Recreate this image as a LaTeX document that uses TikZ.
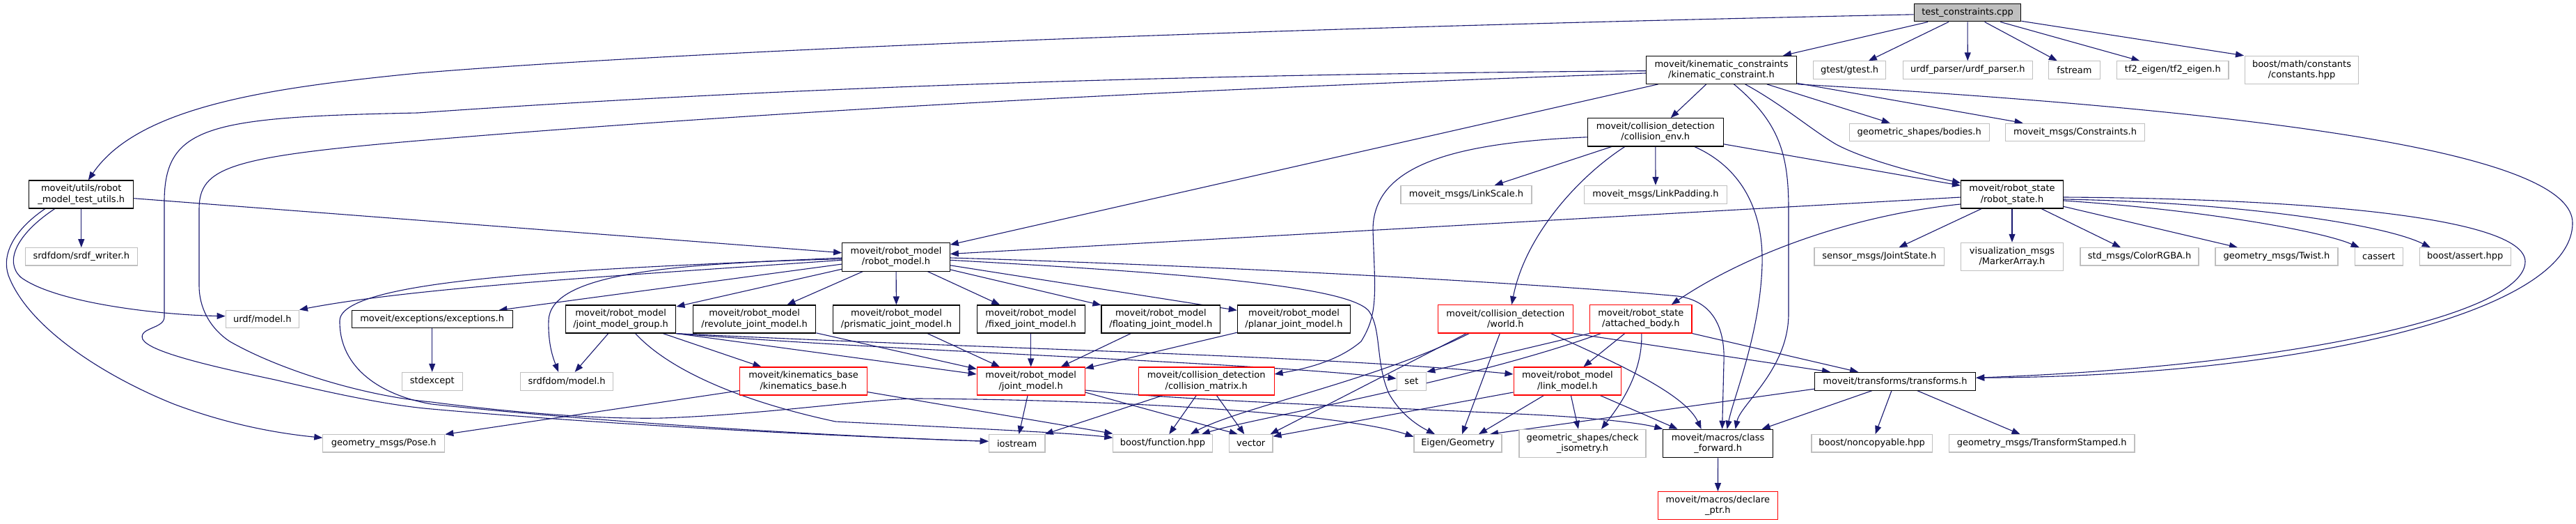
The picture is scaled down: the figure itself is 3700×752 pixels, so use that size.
\documentclass[tikz,border=0pt]{standalone}
\usepackage{fontspec}
\setmainfont{DejaVu Sans}
\usetikzlibrary{arrows.meta}
\definecolor{edgeblue}{HTML}{191970}
\definecolor{grayb}{HTML}{BFBFBF}
\pgfdeclarelayer{back}
\pgfdeclarelayer{bg}
\pgfsetlayers{back,bg,main}
\tikzset{
  nd/.style={draw, rectangle, inner sep=0pt, align=center, fill=white,
    font=\fontsize{13}{15.3}\selectfont, line width=1.1pt},
  gn/.style={nd, draw=grayb},
  bn/.style={nd, draw=black},
  rn/.style={nd, draw=red},
  sz/.style 2 args={minimum width=#1pt, minimum height=#2pt},
  e/.style={draw=edgeblue, line width=1.1pt, -{Triangle[length=12pt,width=9pt]}},
}
\begin{document}
\begin{tikzpicture}[x=1pt,y=-1pt]
\useasboundingbox (0,0) rectangle (3700,752);
\begin{pgfonlayer}{back}
\fill[white] (0,0) rectangle (3700,752);
\end{pgfonlayer}

\node[bn,fill=grayb,sz={153.5}{25.3}] (tc) at (2826,18.3) {test\_constraints.cpp};
\node[bn,sz={150}{40}] (mtu) at (116.8,279) {moveit/utils/robot\\\_model\_test\_utils.h};
\node[gn,sz={161}{25.3}] (srdfw) at (116.8,368.3) {srdfdom/srdf\_writer.h};
\node[bn,sz={216.4}{40}] (kc) at (2472.5,100.3) {moveit/kinematic\_constraints\\/kinematic\_constraint.h};
\node[gn,sz={104.4}{25.3}] (gtest) at (2656.6,100.5) {gtest/gtest.h};
\node[gn,sz={185.9}{25.3}] (urdfp) at (2826.3,100.5) {urdf\_parser/urdf\_parser.h};
\node[gn,sz={74}{25.3}] (fstream) at (2979.5,100.5) {fstream};
\node[gn,sz={160.3}{25.3}] (tf2) at (3120.8,100.5) {tf2\_eigen/tf2\_eigen.h};
\node[gn,sz={163}{40.4}] (consts) at (3306,100.5) {boost/math/constants\\/constants.hpp};
\node[bn,sz={194.7}{40.3}] (ce) at (2377.8,189.8) {moveit/collision\_detection\\/collision\_env.h};
\node[gn,sz={200.9}{25.3}] (bodies) at (2756.7,189.7) {geometric\_shapes/bodies.h};
\node[gn,sz={200.4}{25.3}] (constr) at (2980.6,189.7) {moveit\_msgs/Constraints.h};
\node[gn,sz={188}{25.7}] (lscale) at (2106,279.2) {moveit\_msgs/LinkScale.h};
\node[gn,sz={204.6}{25.7}] (lpad) at (2378,279.2) {moveit\_msgs/LinkPadding.h};
\node[bn,sz={147}{40}] (rs) at (2890,279) {moveit/robot\_state\\/robot\_state.h};
\node[bn,sz={154.6}{40.7}] (rm) at (1287,368.7) {moveit/robot\_model\\/robot\_model.h};
\node[gn,sz={186.6}{25.3}] (jstate) at (2699.3,368.3) {sensor\_msgs/JointState.h};
\node[gn,sz={147}{40.4}] (marker) at (2890,368.5) {visualization\_msgs\\/MarkerArray.h};
\node[gn,sz={170}{25.3}] (color) at (3073,368.3) {std\_msgs/ColorRGBA.h};
\node[gn,sz={176}{25.3}] (twist) at (3270,368.3) {geometry\_msgs/Twist.h};
\node[gn,sz={69}{25.3}] (cassert) at (3416.7,368.3) {cassert};
\node[gn,sz={131}{25.3}] (bassert) at (3540.8,368.3) {boost/assert.hpp};
\node[gn,sz={105.2}{25.3}] (urdfm) at (376.8,457.7) {urdf/model.h};
\node[bn,sz={230.7}{24.6}] (exc) at (620.7,458) {moveit/exceptions/exceptions.h};
\node[bn,sz={158.6}{40}] (jmg) at (891.6,458) {moveit/robot\_model\\/joint\_model\_group.h};
\node[bn,sz={176.4}{40}] (rev) at (1083.6,458) {moveit/robot\_model\\/revolute\_joint\_model.h};
\node[bn,sz={182.4}{40}] (pris) at (1287.5,458) {moveit/robot\_model\\/prismatic\_joint\_model.h};
\node[bn,sz={155}{40}] (fixed) at (1480.7,458) {moveit/robot\_model\\/fixed\_joint\_model.h};
\node[bn,sz={170.8}{40}] (floating) at (1667.4,458) {moveit/robot\_model\\/floating\_joint\_model.h};
\node[bn,sz={162.3}{40}] (planar) at (1858.5,458) {moveit/robot\_model\\/planar\_joint\_model.h};
\node[rn,sz={194.5}{40.3}] (world) at (2162.3,457.8) {moveit/collision\_detection\\/world.h};
\node[rn,sz={146.4}{40.3}] (ab) at (2356.8,457.8) {moveit/robot\_state\\/attached\_body.h};
\node[gn,sz={86.7}{25.7}] (stdexc) at (620.7,547.2) {stdexcept};
\node[gn,sz={133.2}{25.7}] (srdfm) at (814.1,547.2) {srdfdom/model.h};
\node[rn,sz={183}{40}] (kb) at (1154,547) {moveit/kinematics\_base\\/kinematics\_base.h};
\node[rn,sz={155}{40}] (jm) at (1480.7,547) {moveit/robot\_model\\/joint\_model.h};
\node[rn,sz={194.7}{40}] (cm) at (1732.7,547) {moveit/collision\_detection\\/collision\_matrix.h};
\node[gn,sz={42.7}{25.7}] (set) at (2027.4,547.2) {set};
\node[rn,sz={154.7}{40}] (lm) at (2251.4,547) {moveit/robot\_model\\/link\_model.h};
\node[bn,sz={231.3}{25.7}] (tr) at (2722,547.2) {moveit/transforms/transforms.h};
\node[gn,sz={175}{25.3}] (pose) at (551.3,636.3) {geometry\_msgs/Pose.h};
\node[gn,sz={80.7}{25.3}] (ios) at (1460.6,636.3) {iostream};
\node[gn,sz={142.3}{25.3}] (bfunc) at (1670,636.3) {boost/function.hpp};
\node[gn,sz={62.6}{25.3}] (vec) at (1796.7,636.3) {vector};
\node[gn,sz={126}{25.3}] (eigen) at (2094,636.3) {Eigen/Geometry};
\node[gn,sz={182}{40}] (ciso) at (2273,636.3) {geometric\_shapes/check\\\_isometry.h};
\node[bn,sz={157.5}{40.4}] (cf) at (2467.6,636.5) {moveit/macros/class\\\_forward.h};
\node[gn,sz={173.2}{25.3}] (noncopy) at (2688.6,636.3) {boost/noncopyable.hpp};
\node[gn,sz={266.6}{25.3}] (tstamp) at (2932.7,636.3) {geometry\_msgs/TransformStamped.h};
\node[rn,sz={172}{40}] (declptr) at (2467.4,725.7) {moveit/macros/declare\\\_ptr.h};

\begin{pgfonlayer}{bg}
% test_constraints.cpp
\draw[e] ([yshift=-2.5]tc.west) .. controls (1600,45) and (900,80) .. (600,105) .. controls (400,125) and (200,150) .. ([xshift=10]mtu.north);
\draw[e] (tc) -- (kc);
\draw[e] (tc) -- (gtest);
\draw[e] (tc) -- (urdfp);
\draw[e] (tc) -- (fstream);
\draw[e] (tc) -- (tf2);
\draw[e] (tc) -- ([xshift=-83]consts.north);
% robot_model_test_utils
\draw[e] (mtu) -- (rm);
\draw[e] (mtu) -- (srdfw);
\draw[e] ([xshift=-38]mtu.south) .. controls (25,335) and (5,375) .. (30,398) .. controls (80,435) and (230,452) .. ([yshift=4]urdfm.west);
\draw[e] ([xshift=-52]mtu.south) .. controls (20,330) and (2,365) .. (12,395) .. controls (40,470) and (150,540) .. (250,580) .. controls (330,610) and (400,622) .. ([yshift=8]pose.west);
% kinematic_constraint
\draw[e] (kc) -- (rm);
\draw[e] (kc) -- (ce);
\draw[e] ([xshift=34]kc.south) .. controls (2560,150) and (2600,185) .. (2637,207) .. controls (2680,230) and (2760,250) .. ([yshift=-4]rs.north west);
\draw[e] (kc) -- (bodies);
\draw[e] (kc) -- (constr);
\draw[e] (kc.south east) .. controls (3350,165) and (3695,230) .. (3695,320) .. controls (3695,450) and (3300,540) .. ([yshift=5]tr.east);
\draw[e] ([xshift=18]kc.south) .. controls (2555,175) and (2569,220) .. (2569,300) -- (2569,450) .. controls (2569,530) and (2500,580) .. ([xshift=25]cf.north);
\draw[e] ([yshift=-1.4]kc.west) .. controls (1800,106) and (1200,120) .. (600,162) .. controls (300,168) and (236,180) .. (236,290) -- (236,455) .. controls (236,472) and (198,470) .. (205,487) .. controls (215,505) and (300,525) .. (395,545) .. controls (480,565) and (560,582) .. (620,587) .. controls (900,612) and (1250,628) .. ([yshift=3]ios.west);
\draw[e] ([yshift=-4.7]kc.west) .. controls (1800,125) and (1200,152) .. (600,202) .. controls (330,225) and (286,240) .. (286,300) -- (286,410) .. controls (286,440) and (300,470) .. (330,490) .. controls (400,530) and (520,568) .. (620,577) .. controls (720,590) and (850,602) .. (950,600) .. controls (1100,595) and (1250,572) .. (1320,572) .. controls (1700,575) and (1950,600) .. ([yshift=9.6]eigen.west);
% robot_model
\draw[e] ([yshift=-1.3]rm.west) .. controls (900,385) and (490,395) .. (488,460) .. controls (487,530) and (550,568) .. (620,580) .. controls (900,610) and (1250,628) .. ([yshift=3]ios.west);
\draw[e] ([yshift=-4.6]rm.west) .. controls (900,395) and (600,412) .. (urdfm.north east);
\draw[e] ([yshift=-3]rm.west) .. controls (950,378) and (790,395) .. (788,460) .. controls (787,495) and (795,515) .. ([xshift=-12]srdfm.north);
\draw[e] (rm) -- (exc);
\draw[e] (rm) -- (jmg);
\draw[e] (rm) -- (rev);
\draw[e] (rm) -- (pris);
\draw[e] (rm) -- (fixed);
\draw[e] (rm) -- (floating);
\draw[e] (rm) -- (planar);
\draw[e] ([yshift=-4.6]rm.east) .. controls (1700,392) and (1930,410) .. (1965,445) .. controls (1985,470) and (1975,520) .. (1995,565) .. controls (2015,600) and (2045,615) .. ([xshift=-33]eigen.north);
\draw[e] ([yshift=-1.3]rm.east) .. controls (1800,383) and (2250,410) .. (2410,425) .. controls (2460,432) and (2478,470) .. (2476,520) -- ([xshift=6]cf.north);
% collision_env
\draw[e] (ce) -- (lscale);
\draw[e] (ce) -- (lpad);
\draw[e] (ce) -- (rs);
\draw[e] ([xshift=-44]ce.south) .. controls (2265,255) and (2190,340) .. ([xshift=9]world.north);
\draw[e] ([yshift=-7]ce.west) .. controls (2080,205) and (1972,240) .. (1972,330) .. controls (1975,420) and (1980,450) .. (1955,490) .. controls (1920,520) and (1870,530) .. ([yshift=10]cm.east);
\draw[e] ([xshift=56]ce.south) .. controls (2500,240) and (2533,300) .. (2531,380) .. controls (2528,480) and (2490,570) .. ([xshift=13]cf.north);
% robot_state
\draw[e] (rs) -- (rm);
\draw[e] ([yshift=-14]rs.west) .. controls (2650,310) and (2500,370) .. ([xshift=44]ab.north);
\draw[e] (rs) -- (jstate);
\draw[e] (rs) -- (marker);
\draw[e] (rs) -- (color);
\draw[e] (rs) -- (twist);
\draw[e] ([yshift=-9]rs.east) .. controls (3150,300) and (3330,330) .. ([xshift=-28]cassert.north);
\draw[e] ([yshift=-7]rs.east) .. controls (3200,290) and (3420,320) .. ([xshift=-50]bassert.north);
\draw[e] ([yshift=-4]rs.east) .. controls (3300,285) and (3625,310) .. (3627,375) .. controls (3628,450) and (3300,525) .. ([yshift=5]tr.east);
% joint_model_group
\draw[e] (jmg) -- (srdfm);
\draw[e] (jmg) -- (kb);
\draw[e] ([xshift=21]jmg.south) .. controls (960,530) and (1060,575) .. (1200,605) .. controls (1400,615) and (1550,622) .. ([yshift=8]bfunc.west);
\draw[e] (jmg.south east) -- ([yshift=10]jm.west);
\draw[e] ([xshift=-1]jmg.south east) .. controls (1300,505) and (1800,520) .. ([yshift=4]set.west);
\draw[e] ([xshift=-1]jmg.south east) .. controls (1400,500) and (1900,510) .. ([yshift=10]lm.west);
% joint models
\draw[e] (rev) -- (jm);
\draw[e] (pris) -- (jm);
\draw[e] (fixed) -- (jm);
\draw[e] (floating) -- (jm);
\draw[e] (planar) -- (jm);
\draw[e] (exc) -- (stdexc);
% joint_model
\draw[e] (jm) -- (ios);
\draw[e] ([yshift=-16]jm.east) -- ([xshift=-19]vec.north);
\draw[e] ([yshift=-13]jm.east) .. controls (1700,575) and (2000,585) .. (2200,595) .. controls (2300,600) and (2360,608) .. (cf.north west);
% collision_matrix
\draw[e] (cm) -- (ios);
\draw[e] (cm) -- (bfunc);
\draw[e] (cm) -- (vec);
% kinematics_base
\draw[e] (kb) -- (pose);
\draw[e] (kb) -- ([yshift=14]bfunc.west);
% world
\draw[e] ([xshift=-8]world.south) -- ([xshift=6]eigen.north);
\draw[e] ([xshift=-56]world.south) -- ([xshift=-4]vec.north east);
\draw[e] ([xshift=-52]world.south) .. controls (1980,545) and (1780,585) .. ([xshift=40]bfunc.north);
\draw[e] ([xshift=65]world.south) .. controls (2320,520) and (2420,565) .. ([xshift=-24]cf.north);
\draw[e] (world.south east) -- ([xshift=-93]tr.north);
% attached_body
\draw[e] (ab.south west) -- (set.north east);
\draw[e] ([xshift=-57]ab.south) .. controls (2100,550) and (1800,600) .. ([xshift=56]bfunc.north);
\draw[e] ([xshift=-23]ab.south) -- ([xshift=23]lm.north);
\draw[e] ([xshift=1]ab.south) .. controls (2360,540) and (2320,590) .. ([xshift=27]ciso.north);
\draw[e] (ab.south east) -- ([xshift=-53]tr.north);
% link_model
\draw[e] ([yshift=-16]lm.west) -- ([yshift=10]vec.east);
\draw[e] ([xshift=-34]lm.south) -- ([xshift=30]eigen.north);
\draw[e] ([xshift=5]lm.south) -- ([xshift=-6]ciso.north);
\draw[e] ([xshift=47]lm.south) -- ([xshift=-58]cf.north);
% transforms
\draw[e] ([yshift=-11]tr.west) -- ([xshift=46]eigen.north);
\draw[e] ([xshift=-33]tr.south) -- ([xshift=63]cf.north);
\draw[e] (tr) -- (noncopy);
\draw[e] (tr) -- (tstamp);
% class_forward
\draw[e] (cf) -- (declptr);
\end{pgfonlayer}
\end{tikzpicture}
\end{document}
